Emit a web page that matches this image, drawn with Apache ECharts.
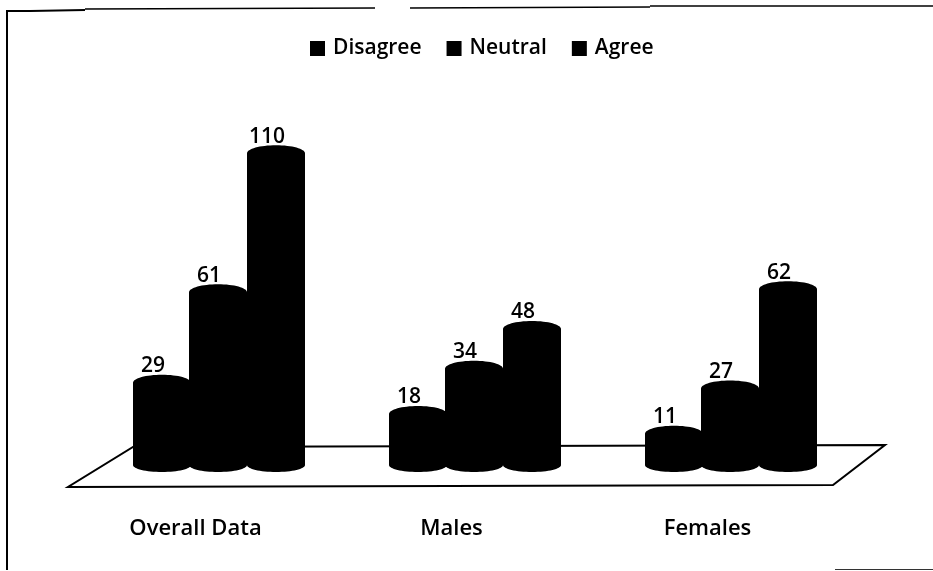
<!DOCTYPE html>
<html>
<head>
<meta charset="utf-8">
<script src="https://cdn.jsdelivr.net/npm/echarts@6/dist/echarts.min.js"></script>
<style>
  html, body { margin: 0; padding: 0; background: #fff; }
  #chart { width: 933px; height: 571px; }
</style>
</head>
<body>
<div id="chart"></div>
<script>
const categories = ['Overall Data', 'Males', 'Females'];
const disagree = [29, 18, 11];
const neutral = [61, 34, 27];
const agree = [110, 48, 62];

const FONT = '"Open Sans", Lato, sans-serif';
const BAR_W = 58;

// one cylinder per value: body + top and bottom ellipses, label sits above it
function cylinder(offset) {
  return (params, api) => {
    const x = api.coord([api.value(0), 0])[0] + offset;
    const y0 = api.coord([api.value(0), 0])[1];
    const y1 = api.coord([api.value(0), api.value(1)])[1];
    const rx = BAR_W / 2;
    const fill = { fill: '#000' };
    return {
      type: 'group',
      children: [
        { type: 'rect', shape: { x: x - rx, y: y1, width: BAR_W, height: y0 - y1 }, style: fill },
        { type: 'ellipse', shape: { cx: x, cy: y0, rx: rx, ry: 7 }, style: fill },
        { type: 'ellipse', shape: { cx: x, cy: y1, rx: rx, ry: 8 }, style: fill },
        {
          type: 'text',
          style: {
            x: x - 9, y: y1 - 6, text: String(api.value(1)),
            font: '600 21px ' + FONT, fill: '#000', align: 'center', verticalAlign: 'bottom',
          },
        },
      ],
    };
  };
}

function series(name, values, offset) {
  return {
    name: name,
    type: 'custom',
    clip: false,
    itemStyle: { color: '#000' },
    encode: { x: 0, y: 1 },
    data: values.map((v, i) => [i, v]),
    renderItem: cylinder(offset),
  };
}

const chart = echarts.init(document.getElementById('chart'));
chart.setOption({
  animation: false,
  backgroundColor: '#fff',
  legend: {
    top: 33, left: 305,
    itemWidth: 15, itemHeight: 15, itemGap: 25,
    icon: 'rect',
    textStyle: { fontFamily: FONT, fontSize: 21, fontWeight: 600, color: '#000', padding: [0, 0, 0, 3] },
    data: ['Disagree', 'Neutral', 'Agree'],
  },
  grid: { left: 90, top: 125, width: 768, height: 340 },
  xAxis: {
    type: 'category',
    data: categories,
    axisLine: { show: false },
    axisTick: { show: false },
    // labels sit left of their cluster in the original
    axisLabel: { fontFamily: FONT, fontSize: 22, fontWeight: 600, color: '#000', margin: 53, padding: [0, 45, 0, 0] },
  },
  yAxis: { type: 'value', min: 0, max: 120, show: false },
  graphic: [
    // floor of the 3D plot
    { type: 'polygon', z: 0, shape: { points: [[133, 447], [885, 445], [833, 485], [68, 487]] },
      style: { fill: '#fff', stroke: '#000', lineWidth: 2 } },
    // scanned frame
    { type: 'polyline', z: 0, shape: { points: [[7, 570], [7, 11], [30, 11], [85, 10] ] },
      style: { fill: 'none', stroke: '#000', lineWidth: 2 } },
    { type: 'line', z: 0, shape: { x1: 85, y1: 9, x2: 375, y2: 8 },
      style: { stroke: '#000', lineWidth: 1.5 } },
    { type: 'line', z: 0, shape: { x1: 410, y1: 8, x2: 650, y2: 7 },
      style: { stroke: '#000', lineWidth: 1.5 } },
    { type: 'line', z: 0, shape: { x1: 650, y1: 6, x2: 933, y2: 6 },
      style: { stroke: '#000', lineWidth: 1.5 } },
    { type: 'line', z: 0, shape: { x1: 835, y1: 569.5, x2: 933, y2: 569.5 },
      style: { stroke: '#333', lineWidth: 1 } },
  ],
  series: [
    series('Disagree', disagree, -56),
    series('Neutral', neutral, 0),
    series('Agree', agree, 58),
  ],
});
</script>
</body>
</html>
